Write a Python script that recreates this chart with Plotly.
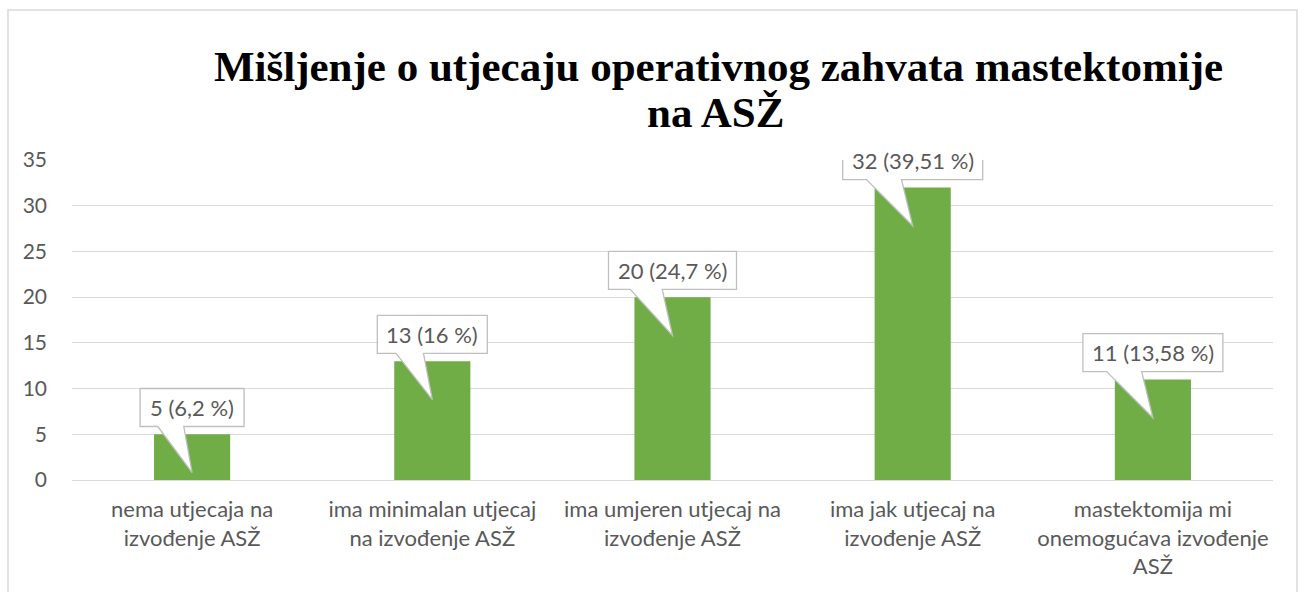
import plotly.graph_objects as go

categories = [
    "nema utjecaja na<br>izvođenje ASŽ",
    "ima minimalan utjecaj<br>na izvođenje ASŽ",
    "ima umjeren utjecaj na<br>izvođenje ASŽ",
    "ima jak utjecaj na<br>izvođenje ASŽ",
    "mastektomija mi<br>onemogućava izvođenje<br>ASŽ",
]
values = [5, 13, 20, 32, 11]
percent_labels = ["6,2", "16", "24,7", "39,51", "13,58"]
title_line1 = "Mišljenje o utjecaju operativnog zahvata mastektomije"
title_line2 = "na ASŽ"

W, H = 1307, 592
ML, MR, MT, MB = 72, 34, 160, 112
plot_w = W - ML - MR
plot_h = H - MT - MB
YMAX = 35
px_per_x = plot_w / len(values)
px_per_y = plot_h / YMAX

BAR = "#70ad47"
GRID = "#d9d9d9"
TXT = "#595959"
FONT = "Lato, Carlito, Calibri, sans-serif"

xs = list(range(len(values)))

fig = go.Figure()
fig.add_trace(go.Bar(x=xs, y=values, marker=dict(color=BAR, line=dict(width=0)),
                     width=0.317, hoverinfo="skip"))

shapes = []
annotations = []
for i, (v, p) in enumerate(zip(values, percent_labels)):
    label = f"{v} ({p} %)"
    digits = sum(c.isdigit() for c in label)
    commas = label.count(",")
    w_px = 12 * digits + 6 * commas + 62
    w = w_px / px_per_x
    bottom = v + 0.85
    top = bottom + 38 / px_per_y
    left = i - w / 2
    right = i + w / 2
    base_l = i - 0.33 * w
    base_r = i - 0.08 * w
    tip_y = v - 4.2
    path = (f"M {left},{bottom} L {left},{top} L {right},{top} L {right},{bottom} "
            f"L {base_r},{bottom} L {i},{tip_y} L {base_l},{bottom} Z")
    shapes.append(dict(type="path", path=path, xref="x", yref="y",
                       fillcolor="white", line=dict(color="#bfbfbf", width=1.3),
                       layer="above"))
    annotations.append(dict(x=i, y=(bottom + top) / 2, xref="x", yref="y",
                            text=label, showarrow=False,
                            font=dict(family=FONT, size=22, color=TXT),
                            xanchor="center", yanchor="middle"))


def px_to_paper_x(px):
    return (px - ML) / plot_w


def py_to_paper_y(py):
    return (H - MB - py) / plot_h


# chart border
shapes.append(dict(type="rect", xref="paper", yref="paper",
                   x0=px_to_paper_x(8), x1=px_to_paper_x(1297),
                   y0=py_to_paper_y(650), y1=py_to_paper_y(10),
                   line=dict(color=GRID, width=1.5), fillcolor="rgba(0,0,0,0)",
                   layer="below"))

TFONT = dict(family="Liberation Serif, Times New Roman, serif", size=43, color="black")
annotations.append(dict(x=px_to_paper_x(718), y=py_to_paper_y(66), xref="paper", yref="paper",
                        text=f"<b>{title_line1}</b>", showarrow=False, font=TFONT,
                        xanchor="center", yanchor="middle"))
annotations.append(dict(x=px_to_paper_x(716), y=py_to_paper_y(113), xref="paper", yref="paper",
                        text=f"<b>{title_line2}</b>", showarrow=False, font=TFONT,
                        xanchor="center", yanchor="middle"))

fig.update_layout(
    width=W, height=H,
    margin=dict(l=ML, r=MR, t=MT, b=MB, pad=0),
    paper_bgcolor="white", plot_bgcolor="white",
    showlegend=False,
    shapes=shapes, annotations=annotations,
    xaxis=dict(range=[-0.5, len(values) - 0.5], tickvals=xs, ticktext=categories,
               showgrid=False, zeroline=False, showline=False, ticks="",
               tickfont=dict(family=FONT, size=22, color=TXT), ticklabelstandoff=14,
               fixedrange=True),
    yaxis=dict(range=[0, YMAX], dtick=5, showgrid=True, gridcolor=GRID, gridwidth=1,
               zeroline=True, zerolinecolor=GRID, zerolinewidth=1, showline=False,
               ticks="", tickfont=dict(family=FONT, size=21, color=TXT),
               ticklabelstandoff=24, fixedrange=True),
)

fig.write_html("out.html", config={"displayModeBar": False},
               post_script="document.body.style.margin='0px';document.body.style.overflow='hidden';")
